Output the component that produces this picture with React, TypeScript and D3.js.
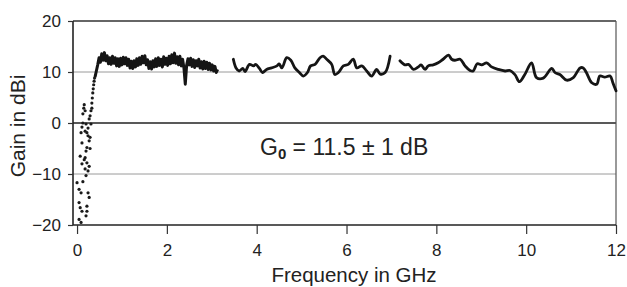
import React, { useRef, useEffect } from "react";
import * as d3 from "d3";

// frequency (GHz), gain (dBi)
const lowDots: [number, number][] = [
  [0.09, -1.9], [0.245, -2.5], [0.11, -3.9], [0.22, -4.8], [0.07, -6.5], [0.18, -6.8],
  [0.22, -7.8], [0.11, -8.0], [0.18, -9.0], [0.245, -9.4], [0.0, -11.7], [0.045, -13.0],
  [0.09, -13.7], [0.245, -13.7], [0.27, -14.6], [0.045, -15.6], [0.07, -16.6], [0.22, -16.3],
  [0.22, -17.3], [0.2, -18.2], [0.045, -18.9], [0.11, -17.3], [0.09, -19.5],
  [0.13, 1.8], [0.18, 2.4], [0.31, 2.4], [0.29, 1.4], [0.33, 2.9], [0.13, 0.0], [0.2, -0.2],
  [0.245, -1.0], [0.31, -0.2], [0.18, -1.6], [0.22, -1.9], [0.27, 0.8], [0.29, -2.8],
  [0.11, -0.8], [0.15, 2.9], [0.16, 3.6], [0.27, -3.5], [0.29, -5.0], [0.2, -5.5],
  [0.16, -7.2], [0.27, -8.5], [0.2, -10.3], [0.13, -11.5],
  [0.33, 3.9], [0.34, 4.9], [0.35, 5.9], [0.36, 6.7], [0.37, 7.5], [0.38, 8.2], [0.39, 8.8],
];

const noisyTrace: [number, number][] = [
  [0.4, 9.0], [0.43, 10.2], [0.46, 11.4], [0.49, 12.8], [0.52, 11.9], [0.55, 13.6], [0.58, 12.3],
  [0.61, 13.8], [0.64, 12.2], [0.67, 13.2], [0.7, 11.6], [0.73, 12.8], [0.76, 11.5], [0.79, 13.1],
  [0.82, 11.7], [0.85, 12.8], [0.88, 11.2], [0.91, 12.6], [0.94, 11.1], [0.97, 12.7], [1.0, 11.4],
  [1.03, 12.9], [1.06, 11.6], [1.09, 12.8], [1.12, 11.3], [1.15, 12.5], [1.18, 10.8], [1.21, 12.1],
  [1.24, 10.7], [1.27, 12.2], [1.3, 11.0], [1.33, 12.6], [1.36, 11.3], [1.39, 12.8], [1.42, 11.5],
  [1.45, 13.1], [1.48, 11.8], [1.51, 13.2], [1.54, 11.4], [1.57, 12.4], [1.6, 10.7], [1.63, 12.0],
  [1.66, 10.6], [1.69, 12.2], [1.72, 11.0], [1.75, 12.6], [1.78, 11.1], [1.81, 12.8], [1.84, 11.3],
  [1.87, 12.5], [1.9, 11.0], [1.93, 13.0], [1.96, 11.5], [1.99, 12.7], [2.02, 11.3], [2.05, 13.1],
  [2.08, 11.6], [2.11, 13.4], [2.14, 11.8], [2.17, 13.7], [2.2, 11.7], [2.23, 13.0], [2.26, 11.4],
  [2.29, 13.1], [2.32, 11.2], [2.35, 12.5], [2.38, 10.8], [2.41, 7.6], [2.44, 11.3], [2.47, 12.6],
  [2.5, 11.4], [2.53, 12.7], [2.56, 11.1], [2.59, 12.4], [2.62, 10.9], [2.65, 12.2], [2.68, 11.2],
  [2.71, 12.5], [2.74, 10.8], [2.77, 12.0], [2.8, 10.6], [2.83, 12.1], [2.86, 10.7], [2.89, 11.9],
  [2.92, 10.5], [2.95, 11.7], [2.98, 10.4], [3.01, 11.4], [3.04, 10.2], [3.07, 11.1], [3.1, 9.9],
  [3.13, 10.5],
];

const midTrace: [number, number][] = [
  [3.48, 12.5], [3.54, 10.8], [3.61, 10.2], [3.69, 10.7], [3.74, 10.1], [3.84, 11.5], [3.93, 11.2],
  [3.98, 11.5], [4.06, 10.7], [4.13, 9.9], [4.22, 10.5], [4.33, 10.8], [4.45, 11.2], [4.5, 11.6],
  [4.56, 10.8], [4.67, 12.8], [4.76, 12.3], [4.85, 10.8], [4.95, 9.9], [5.04, 9.2], [5.13, 9.9],
  [5.2, 11.2], [5.3, 11.5], [5.41, 12.8], [5.48, 13.1], [5.56, 12.5], [5.67, 11.5], [5.74, 9.5],
  [5.82, 9.9], [5.93, 11.2], [6.04, 11.5], [6.15, 12.5], [6.23, 10.8], [6.34, 11.2], [6.45, 10.2],
  [6.56, 9.2], [6.67, 10.5], [6.75, 9.6], [6.86, 9.9], [6.97, 13.1],
];

const highTrace: [number, number][] = [
  [7.19, 12.2], [7.3, 11.4], [7.38, 11.5], [7.49, 10.5], [7.6, 11.0], [7.66, 11.4], [7.75, 10.5],
  [7.82, 11.2], [7.93, 11.4], [8.04, 11.8], [8.15, 12.5], [8.27, 13.3], [8.34, 12.5], [8.41, 12.3],
  [8.53, 12.5], [8.64, 11.2], [8.75, 10.3], [8.82, 10.2], [8.91, 11.6], [9.01, 11.4], [9.12, 11.8],
  [9.23, 11.0], [9.38, 10.5], [9.53, 10.2], [9.64, 10.3], [9.75, 9.5], [9.85, 8.1], [9.97, 9.5],
  [10.12, 11.8], [10.23, 8.9], [10.38, 8.8], [10.57, 10.7], [10.64, 9.9], [10.75, 9.5], [10.9, 8.4],
  [11.05, 8.9], [11.2, 10.8], [11.27, 10.8], [11.34, 9.9], [11.46, 7.9], [11.57, 7.6], [11.64, 9.2],
  [11.75, 9.0], [11.87, 9.2], [11.93, 7.9], [12.0, 6.3],
];

const xTicks = [0, 2, 4, 6, 8, 10, 12];
const yTicks = [-20, -10, 0, 10, 20];
const gridValues = [-10, 10];

const font = "'Liberation Sans', Arial, sans-serif";

function GainChart() {
  const svgRef = useRef<SVGSVGElement>(null);

  useEffect(() => {
    const svg = d3.select(svgRef.current);
    svg.selectAll("*").remove();

    const x = d3.scaleLinear().domain([-0.09, 12]).range([73, 616]);
    const y = d3.scaleLinear().domain([-20, 20]).range([225, 21]);

    // light grid at +-10
    svg
      .selectAll(".grid")
      .data(gridValues)
      .enter()
      .append("line")
      .attr("x1", x(-0.09))
      .attr("x2", x(12))
      .attr("y1", (d) => y(d))
      .attr("y2", (d) => y(d))
      .attr("stroke", "#9a9a9a")
      .attr("stroke-width", 1);

    // zero line
    svg
      .append("line")
      .attr("x1", x(-0.09))
      .attr("x2", x(12))
      .attr("y1", y(0))
      .attr("y2", y(0))
      .attr("stroke", "#222")
      .attr("stroke-width", 1.6);

    // frame: top and right
    svg
      .append("line")
      .attr("x1", x(-0.09))
      .attr("x2", x(12))
      .attr("y1", y(20))
      .attr("y2", y(20))
      .attr("stroke", "#333")
      .attr("stroke-width", 1.5);
    svg
      .append("line")
      .attr("x1", x(12))
      .attr("x2", x(12))
      .attr("y1", y(20))
      .attr("y2", y(-20))
      .attr("stroke", "#555")
      .attr("stroke-width", 1.2);

    const xAxis = d3.axisBottom(x).tickValues(xTicks).tickSize(9).tickPadding(10).tickFormat(d3.format("d"));
    const yAxis = d3.axisLeft(y).tickValues(yTicks).tickSize(5).tickPadding(7).tickFormat(d3.format("d"));

    const gx = svg.append("g").attr("transform", `translate(0,${y(-20)})`).call(xAxis);
    const gy = svg.append("g").attr("transform", `translate(${x(-0.09)},0)`).call(yAxis);

    [gx, gy].forEach((g) => {
      g.select(".domain").attr("stroke", "#222").attr("stroke-width", 1.6);
      g.selectAll(".tick line").attr("stroke", "#333").attr("stroke-width", 1.2);
      g.selectAll(".tick text")
        .attr("fill", "#222")
        .style("font-family", font)
        .style("font-size", "17px");
    });
    gx.select(".domain").attr("d", `M${x(-0.09)},0H${x(12)}`);
    gy.select(".domain").attr("d", `M0,${y(-20)}V${y(20)}`);

    const line = d3
      .line<[number, number]>()
      .x((d) => x(d[0]))
      .y((d) => y(d[1]));

    const smoothLine = d3
      .line<[number, number]>()
      .x((d) => x(d[0]))
      .y((d) => y(d[1]))
      .curve(d3.curveCatmullRom.alpha(0.5));

    svg
      .append("path")
      .datum(noisyTrace)
      .attr("d", line)
      .attr("fill", "none")
      .attr("stroke", "#151515")
      .attr("stroke-width", 3)
      .attr("stroke-linejoin", "round");

    [midTrace, highTrace].forEach((seg) => {
      svg
        .append("path")
        .datum(seg)
        .attr("d", smoothLine)
        .attr("fill", "none")
        .attr("stroke", "#151515")
        .attr("stroke-width", 2.8)
        .attr("stroke-linejoin", "round")
        .attr("stroke-linecap", "round");
    });

    svg
      .selectAll(".dot")
      .data(lowDots)
      .enter()
      .append("circle")
      .attr("cx", (d) => x(d[0]))
      .attr("cy", (d) => y(d[1]))
      .attr("r", 1.6)
      .attr("fill", "#1a1a1a");

    // annotation
    const ann = svg
      .append("text")
      .attr("x", 260)
      .attr("y", 155)
      .attr("fill", "#222")
      .style("font-family", font)
      .style("font-size", "23px");
    ann.append("tspan").text("G");
    ann.append("tspan").attr("dy", 4).style("font-size", "15px").style("font-weight", "bold").text("0");
    ann.append("tspan").attr("dy", -4).text(" = 11.5 ± 1 dB");

    // axis titles
    svg
      .append("text")
      .attr("x", 354)
      .attr("y", 282)
      .attr("text-anchor", "middle")
      .attr("fill", "#222")
      .style("font-family", font)
      .style("font-size", "20.5px")
      .text("Frequency in GHz");

    svg
      .append("text")
      .attr("transform", "translate(25,126) rotate(-90)")
      .attr("text-anchor", "middle")
      .attr("fill", "#222")
      .style("font-family", font)
      .style("font-size", "21px")
      .text("Gain in dBi");
  }, []);

  return (
    <svg
      ref={svgRef}
      width={627}
      height={287}
      style={{ position: "absolute", left: 0, top: 0, background: "#fff" }}
    />
  );
}

export default function App() {
  return <GainChart />;
}
